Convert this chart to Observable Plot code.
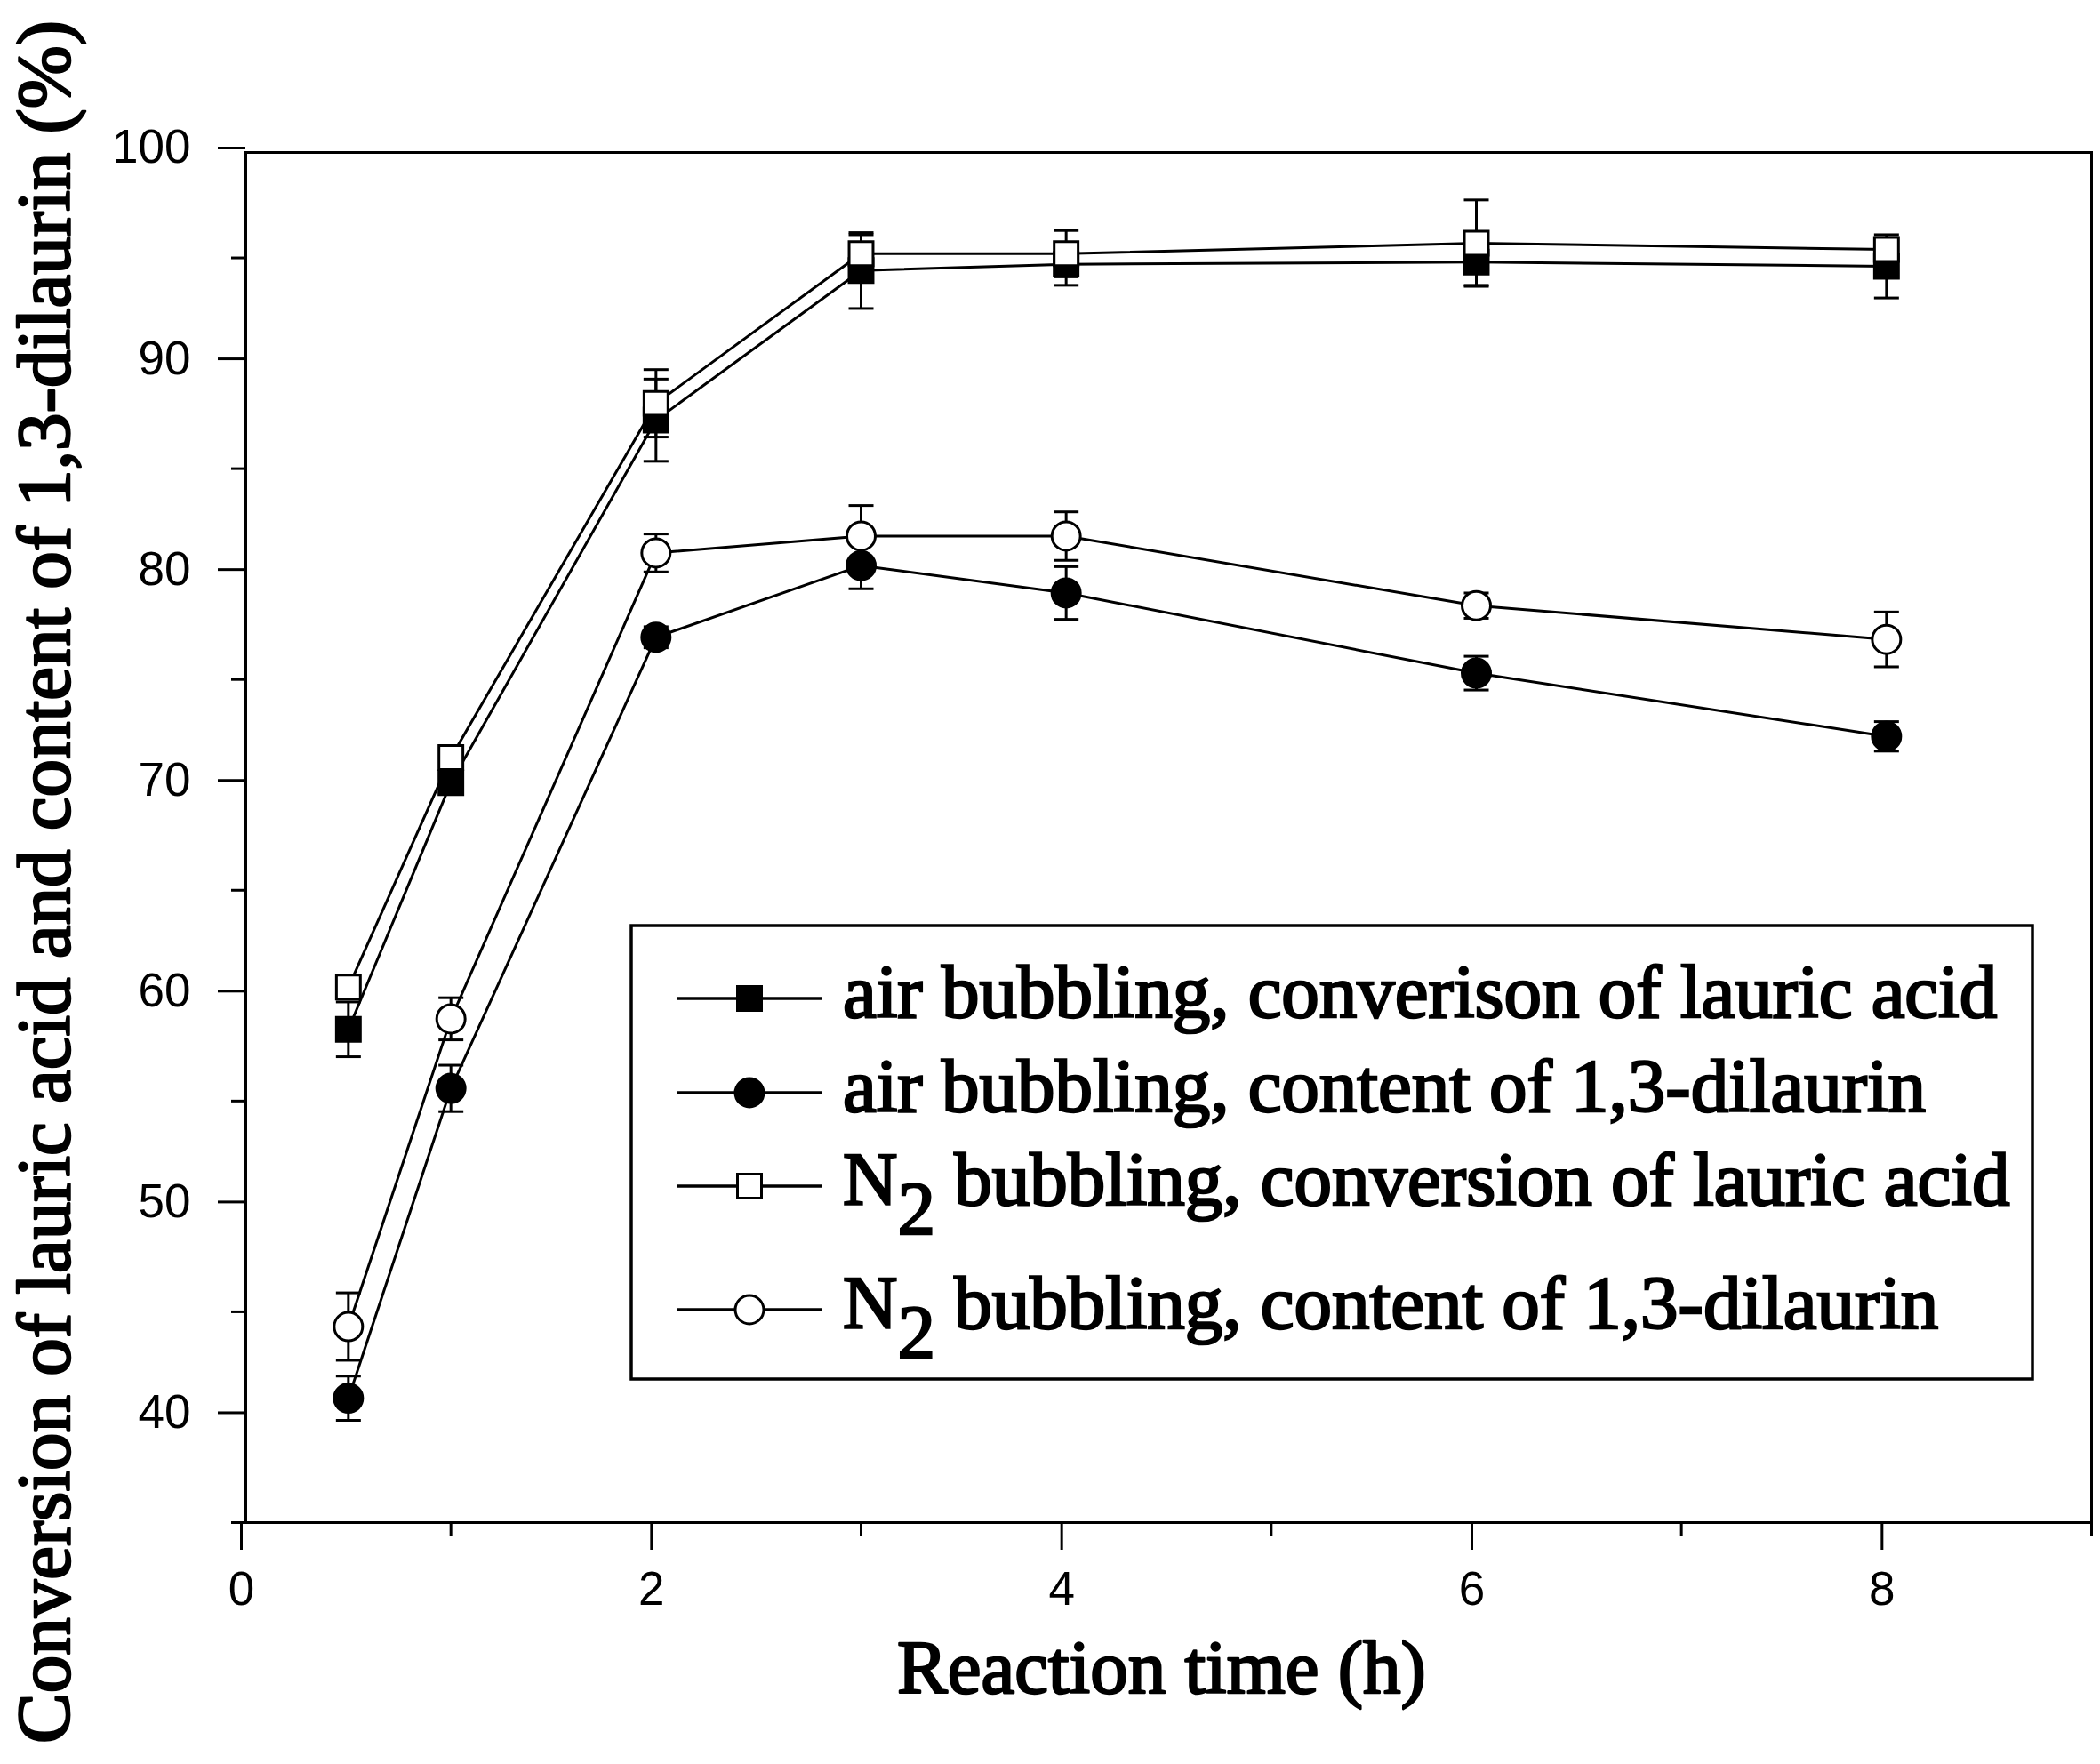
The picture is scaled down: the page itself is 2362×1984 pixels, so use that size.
<!DOCTYPE html>
<html>
<head>
<meta charset="utf-8">
<script src="https://cdn.jsdelivr.net/npm/d3@7"></script>
<script src="https://cdn.jsdelivr.net/npm/@observablehq/plot@0.6"></script>
<style>
  html, body { margin: 0; padding: 0; background: #fff; }
  svg text { fill: #000; }
</style>
</head>
<body>
<div id="chart"></div>
<script>
// ---- data ----
const time = [0.5, 1, 2, 3, 4, 6, 8];

const airConv    = [58.4, 70.1, 87.3, 94.4, 94.7, 94.8, 94.6];
const airConvErr = [1.3, 0.5, 1.95, 1.8, 1.0, 1.1, 1.5];

const airDil     = [40.9, 55.6, 77.0, 80.4, 79.1, 75.3, 72.3];
const airDilErr  = [1.05, 1.1, 0.5, 1.1, 1.25, 0.8, 0.7];

const n2Conv     = [60.4, 71.3, 88.1, 95.2, 95.2, 95.7, 95.4];
const n2ConvErr  = [0.5, 0.5, 1.6, 0.9, 1.1, 2.05, 0.4];

const n2Dil      = [44.3, 58.9, 81.0, 81.8, 81.8, 78.5, 76.9];
const n2DilErr   = [1.6, 1.0, 0.9, 1.45, 1.15, 0.6, 1.3];

const seriesNames = [
  "air bubbling, converison of lauric acid",
  "air bubbling, content of 1,3-dilaurin",
  "N2 bubbling, conversion of lauric acid",
  "N2 bubbling, content of 1,3-dilaurin"
];

const xMajor = [0, 2, 4, 6, 8];
const xMinor = [1, 3, 5, 7, 9];
const yMajor = [40, 50, 60, 70, 80, 90, 100];
const yMinor = [35, 45, 55, 65, 75, 85, 95];

const xTitle = "Reaction time (h)";
const yTitle = "Conversion of lauric acid and content of 1,3-dilaurin (%)";

// ---- build table ----
const values = [airConv, airDil, n2Conv, n2Dil];
const errors = [airConvErr, airDilErr, n2ConvErr, n2DilErr];
const data = [];
values.forEach((vals, s) => {
  vals.forEach((v, i) => data.push({series: s, time: time[i], value: v, err: errors[s][i]}));
});

const capSymbol = {
  draw(context) { context.moveTo(-14, 0); context.lineTo(14, 0); }
};

const serif = "Liberation Serif, Times New Roman, serif";
const sans = "Liberation Sans, Arial, sans-serif";

const markerStyles = [
  {symbol: "square", fill: "black", r: 15.2},
  {symbol: "circle", fill: "black", r: 16},
  {symbol: "square", fill: "white", r: 15.2},
  {symbol: "circle", fill: "white", r: 16}
];

const chart = Plot.plot({
  width: 2362,
  height: 1984,
  marginTop: 171,
  marginRight: 10,
  marginBottom: 272,
  marginLeft: 276,
  style: {fontFamily: sans, fontSize: "53px", background: "white", color: "black"},
  x: {domain: [0, 9]},
  y: {domain: [35, 100]},
  marks: [
    Plot.frame({stroke: "black", strokeWidth: 3}),
    Plot.axisX(xMajor, {tickSize: 31, tickPadding: 24, strokeWidth: 3, fontSize: 53, label: null, dx: -5, tickFormat: d => String(d)}),
    Plot.axisX(xMinor, {tickSize: 16, strokeWidth: 3, tickFormat: () => "", label: null}),
    Plot.axisY(yMajor, {tickSize: 31, tickPadding: 31, strokeWidth: 3, fontSize: 53, label: null, dy: -5, tickFormat: d => String(d)}),
    Plot.axisY(yMinor, {tickSize: 16, strokeWidth: 3, tickFormat: () => "", label: null}),
    Plot.line(data, {x: "time", y: "value", z: "series", stroke: "black", strokeWidth: 3}),
    Plot.ruleX(data, {x: "time", y1: d => d.value - d.err, y2: d => d.value + d.err, stroke: "black", strokeWidth: 3}),
    Plot.dot(data, {x: "time", y: d => d.value - d.err, symbol: capSymbol, stroke: "black", strokeWidth: 3}),
    Plot.dot(data, {x: "time", y: d => d.value + d.err, symbol: capSymbol, stroke: "black", strokeWidth: 3}),
    ...markerStyles.map((m, s) =>
      Plot.dot(data.filter(d => d.series === s), {
        x: "time", y: "value", symbol: m.symbol, r: m.r,
        fill: m.fill, stroke: "black", strokeWidth: 3
      })
    ),
    Plot.text([xTitle], {frameAnchor: "bottom", textAnchor: "middle", dx: -8, dy: 191, fontFamily: serif, fontSize: 85,
      stroke: "black", strokeWidth: 2.5, fill: "black"}),
    Plot.text([yTitle], {frameAnchor: "left", textAnchor: "middle", rotate: -90, dx: -226, dy: 50, fontFamily: serif, fontSize: 85,
      stroke: "black", strokeWidth: 2.5, fill: "black"})
  ]
});

document.getElementById("chart").appendChild(chart);

// ---- legend (inside the plot area) ----
const svg = d3.select(chart);
const lg = svg.append("g").attr("class", "legend");
lg.append("rect")
  .attr("x", 710).attr("y", 1041).attr("width", 1576).attr("height", 510)
  .attr("fill", "white").attr("stroke", "black").attr("stroke-width", 3.5);

const rowY = [1123, 1229, 1334, 1473];
seriesNames.forEach((name, s) => {
  const y = rowY[s];
  lg.append("line").attr("x1", 762).attr("x2", 924).attr("y1", y).attr("y2", y)
    .attr("stroke", "black").attr("stroke-width", 3.5);
  const m = markerStyles[s];
  if (m.symbol === "square") {
    lg.append("rect").attr("x", 843 - 13.5).attr("y", y - 13.5).attr("width", 27).attr("height", 27)
      .attr("fill", m.fill).attr("stroke", "black").attr("stroke-width", 3);
  } else {
    lg.append("circle").attr("cx", 843).attr("cy", y).attr("r", 16)
      .attr("fill", m.fill).attr("stroke", "black").attr("stroke-width", 3);
  }
  const t = lg.append("text")
    .attr("x", 948).attr("y", y + 21)
    .attr("text-anchor", "start")
    .attr("font-family", serif).attr("font-size", 85)
    .attr("fill", "black").attr("stroke", "black").attr("stroke-width", 2.5)
    .attr("xml:space", "preserve").style("white-space", "pre");
  if (name.startsWith("N2")) {
    t.append("tspan").text("N");
    t.append("tspan").attr("dy", 33).text("2");
    t.append("tspan").attr("dy", -33).text(name.slice(2));
  } else {
    t.text(name);
  }
});
</script>
</body>
</html>
